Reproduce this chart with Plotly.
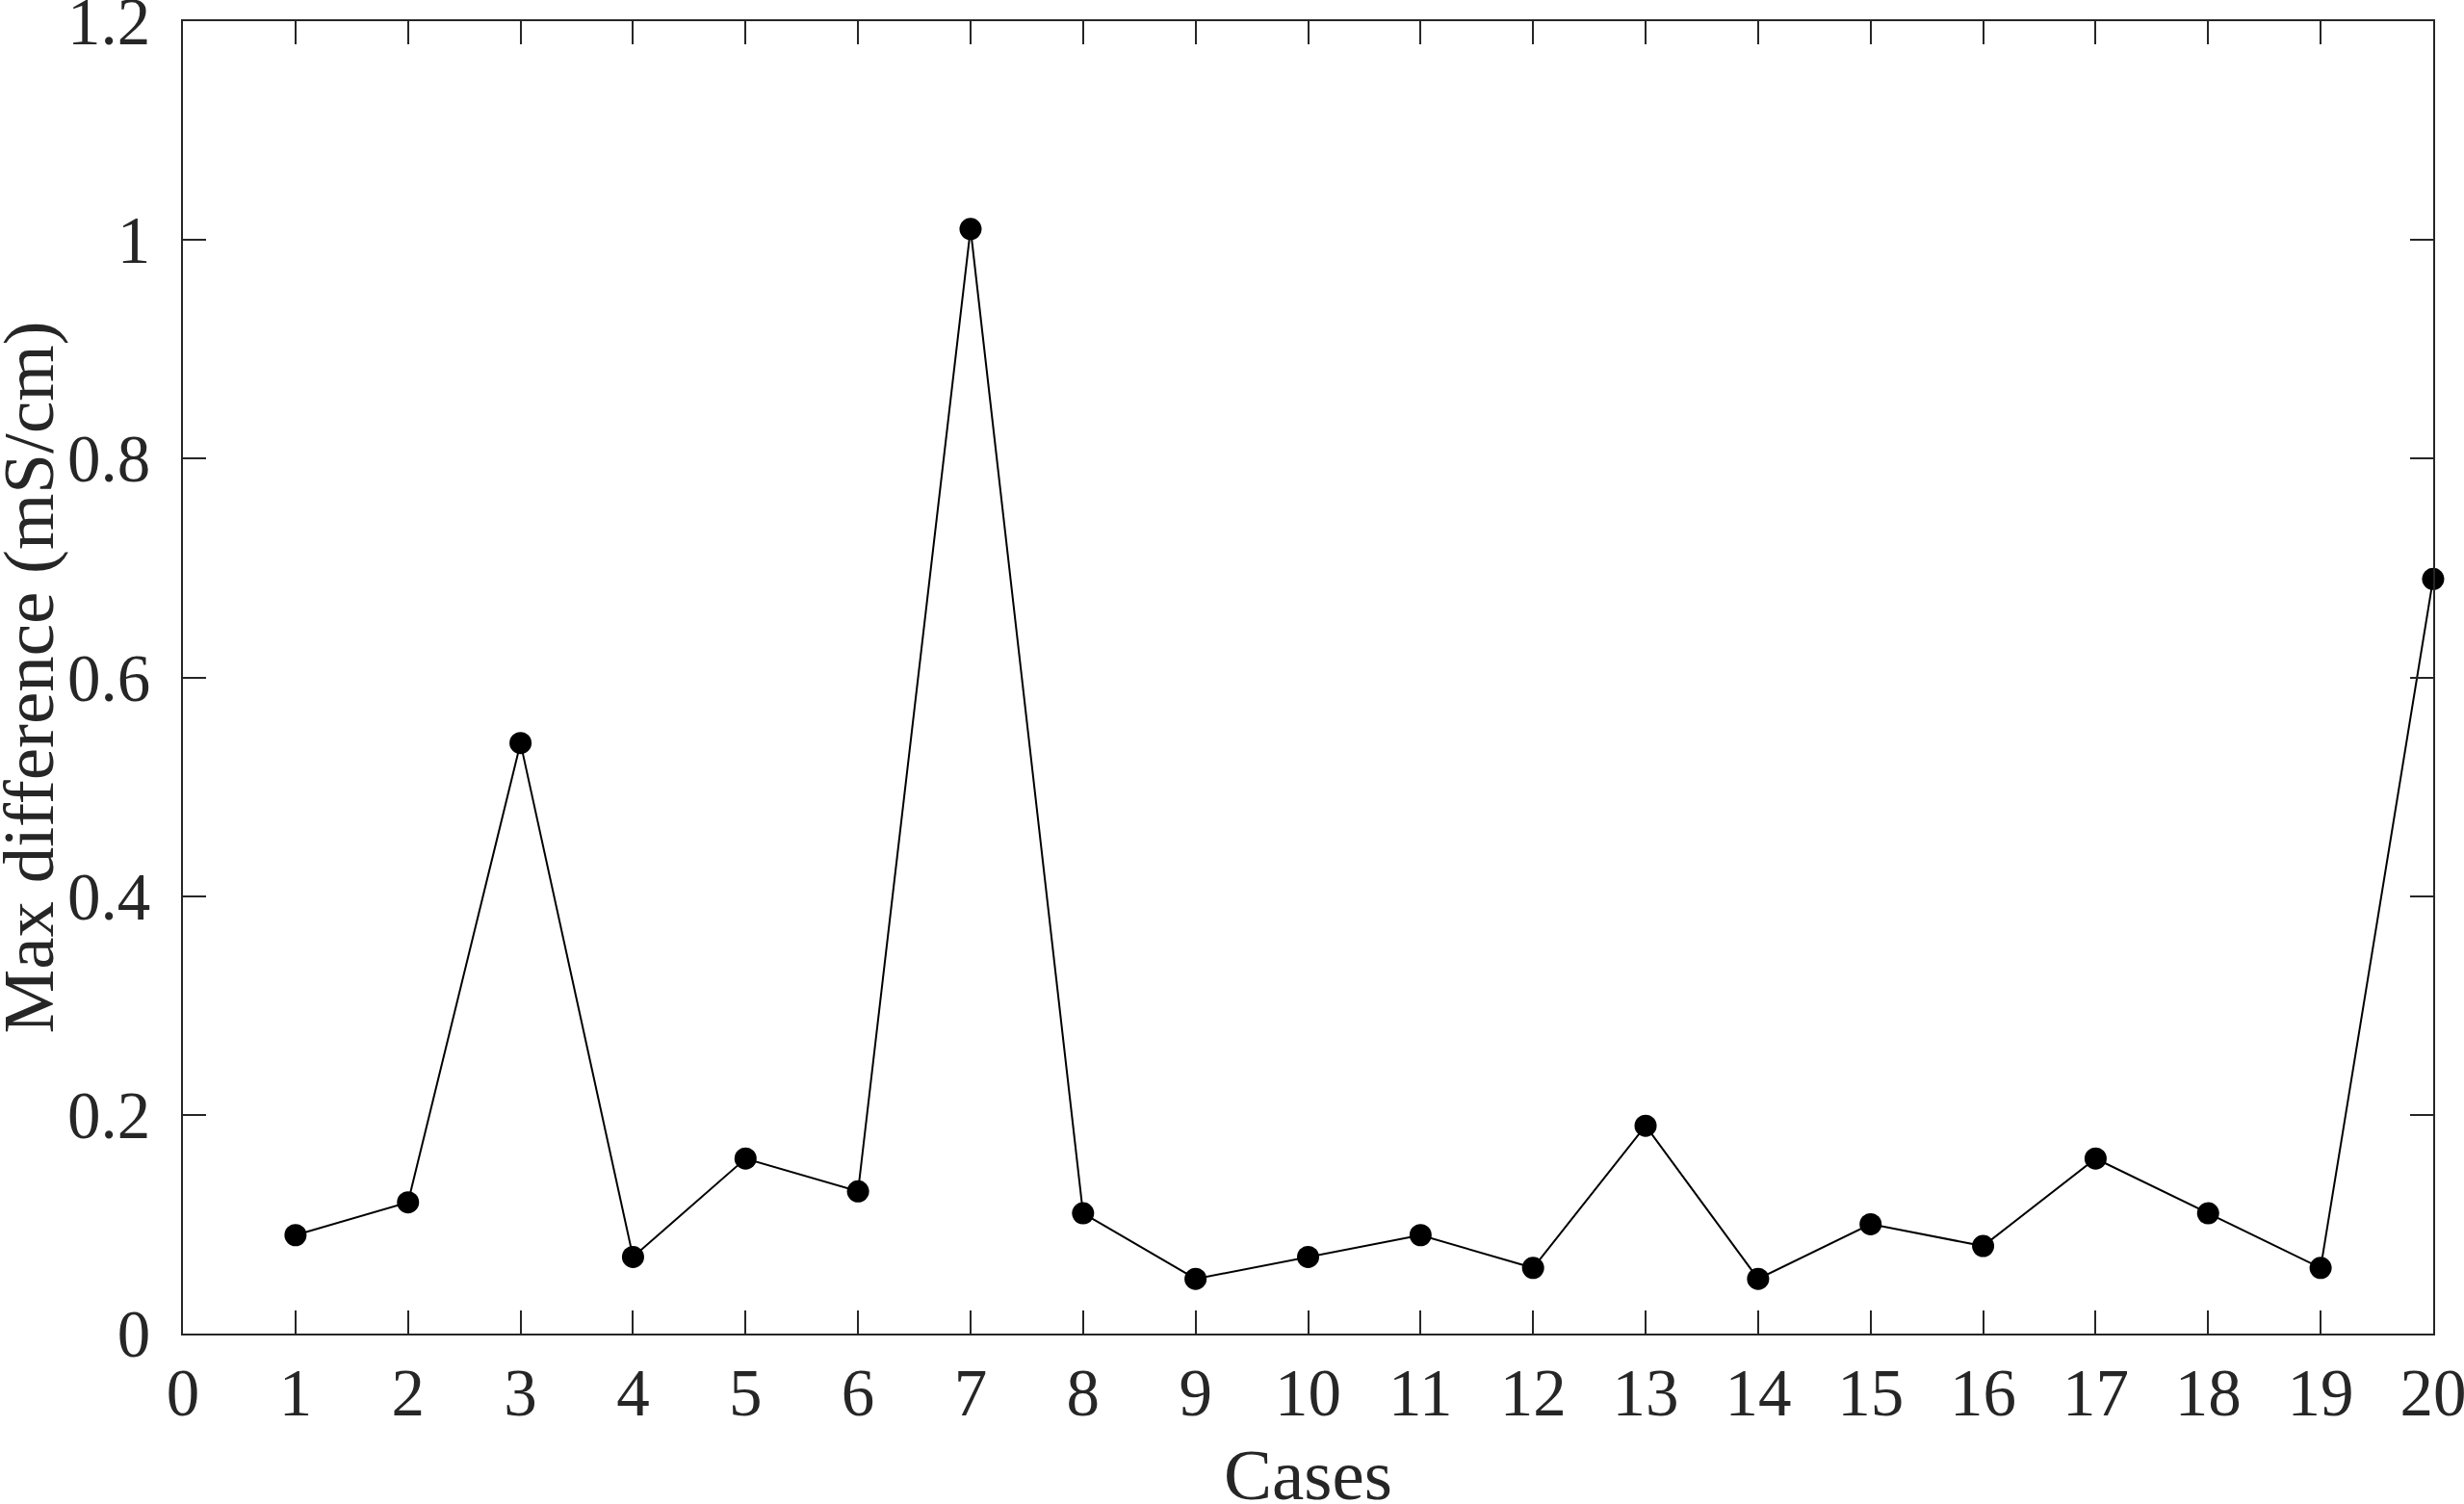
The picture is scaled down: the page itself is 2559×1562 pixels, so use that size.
import plotly.graph_objects as go

cases = list(range(1, 21))
max_diff = [0.09, 0.12, 0.54, 0.07, 0.16, 0.13, 1.01, 0.11, 0.05, 0.07,
            0.09, 0.06, 0.19, 0.05, 0.10, 0.08, 0.16, 0.11, 0.06, 0.69]
x_ticks = list(range(0, 21))
y_ticks = [0, 0.2, 0.4, 0.6, 0.8, 1, 1.2]
y_tick_labels = ["0", "0.2", "0.4", "0.6", "0.8", "1", "1.2"]
x_title = "Cases"
y_title = "Max difference (mS/cm)"

FONT = "Liberation Serif, Times New Roman, serif"
AX = "#262626"

fig = go.Figure()
fig.add_trace(go.Scatter(
    x=cases, y=max_diff, mode="lines+markers",
    line=dict(color="black", width=2),
    marker=dict(color="black", size=23),
    showlegend=False, cliponaxis=False,
))

fig.update_layout(
    width=2559, height=1562,
    margin=dict(l=190, r=32, t=22, b=177),
    paper_bgcolor="white", plot_bgcolor="white",
    font=dict(family=FONT, size=69, color=AX),
)
fig.update_xaxes(
    range=[-0.0005, 20.0005], tickvals=x_ticks, ticktext=[str(v) for v in x_ticks],
    ticks="inside", ticklen=24, tickwidth=2, tickcolor=AX,
    showline=True, linecolor=AX, linewidth=2, mirror="ticks",
    showgrid=False, zeroline=False, automargin=False,
    ticklabelstandoff=0, ticklabeloverflow="allow",
    tickfont=dict(family=FONT, size=69, color=AX),
)
fig.update_yaxes(
    range=[-0.00003, 1.20003], tickvals=y_ticks, ticktext=y_tick_labels,
    ticks="inside", ticklen=24, tickwidth=2, tickcolor=AX,
    showline=True, linecolor=AX, linewidth=2, mirror="ticks",
    showgrid=False, zeroline=False, automargin=False,
    ticklabelstandoff=18, ticklabeloverflow="allow",
    tickfont=dict(family=FONT, size=69, color=AX),
)

fig.add_annotation(
    text=x_title, xref="paper", yref="paper", x=0.5, y=0,
    xanchor="center", yanchor="middle", yshift=-146, showarrow=False,
    font=dict(family=FONT, size=75, color=AX),
)
fig.add_annotation(
    text=y_title, xref="paper", yref="paper", x=0, y=0.5,
    xanchor="center", yanchor="middle", xshift=-161, textangle=-90, showarrow=False,
    font=dict(family=FONT, size=75, color=AX),
)

# remove the default page margin so the figure fills the window exactly
fig.write_html(
    "out.html",
    config={"displayModeBar": False},
    post_script="document.body.style.margin='0';document.body.style.overflow='hidden';",
)
